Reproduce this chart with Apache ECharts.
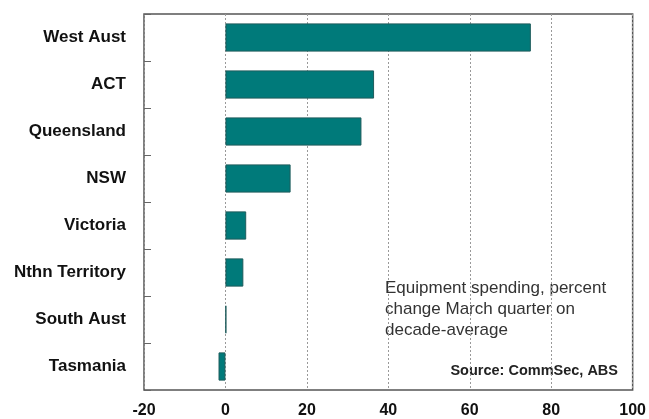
<!DOCTYPE html>
<html>
<head>
<meta charset="utf-8">
<script src="https://cdn.jsdelivr.net/npm/echarts@6/dist/echarts.min.js"></script>
<style>
html,body{margin:0;padding:0;background:#fff;}
#chart{width:649px;height:419px;}
</style>
</head>
<body>
<div id="chart"></div>
<script>
// States, top to bottom
const states = ['West Aust', 'ACT', 'Queensland', 'NSW', 'Victoria', 'Nthn Territory', 'South Aust', 'Tasmania'];
// Equipment spending, % change March quarter on decade-average
const spending = [75, 36.5, 33.4, 16, 5.1, 4.4, 0.2, -1.7];
const xTicks = [-20, 0, 20, 40, 60, 80, 100];

const FONT = 'Liberation Sans, Arial, sans-serif';
const chart = echarts.init(document.getElementById('chart'));
chart.setOption({
  animation: false,
  backgroundColor: '#fff',
  grid: {
    left: 144, right: 13, top: 14, bottom: 28,
    show: true, borderColor: '#555', borderWidth: 1.5, backgroundColor: 'transparent'
  },
  xAxis: {
    type: 'value',
    min: xTicks[0], max: xTicks[xTicks.length - 1], interval: 20,
    axisLine: { show: false },
    axisTick: { show: false },
    axisLabel: {
      margin: 13,
      color: '#111', fontFamily: FONT, fontWeight: 'bold', fontSize: 16
    },
    splitLine: { show: true, lineStyle: { color: '#999', type: [2, 2], width: 1 } }
  },
  yAxis: {
    type: 'category',
    data: states,
    inverse: true,
    axisLine: { show: false, onZero: false },
    axisTick: { show: true, inside: true, length: 7, lineStyle: { color: '#666' } },
    axisLabel: {
      margin: 18,
      color: '#111', fontFamily: FONT, fontWeight: 'bold', fontSize: 17
    },
    splitLine: { show: false }
  },
  series: [{
    type: 'bar',
    data: spending,
    barCategoryGap: '40%',
    itemStyle: { color: '#007a7a', borderColor: '#1e5c5c', borderWidth: 1 }
  }],
  graphic: [
    {
      type: 'text', left: 385, top: 278,
      style: {
        text: 'Equipment spending, percent\nchange March quarter on\ndecade-average',
        fill: '#333', font: '17px ' + FONT, lineHeight: 21
      }
    },
    {
      type: 'text', right: 31, top: 363,
      style: {
        text: 'Source: CommSec, ABS',
        fill: '#222', font: 'bold 14.5px ' + FONT
      }
    }
  ]
});
</script>
</body>
</html>
